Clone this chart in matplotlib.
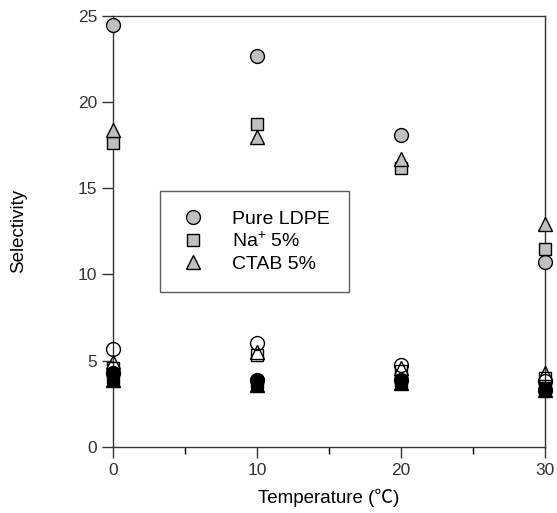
import matplotlib
matplotlib.use("Agg")
import matplotlib.pyplot as plt
import numpy as np

plt.rcParams['font.family'] = ['Liberation Sans', 'Noto Sans CJK SC', 'DejaVu Sans']
plt.rcParams['mathtext.fontset'] = 'custom'
plt.rcParams['mathtext.rm'] = 'Liberation Sans'
plt.rcParams['mathtext.it'] = 'Liberation Sans'

temps = [0, 10, 20, 30]

# selectivity (upper group, grey markers, in legend)
pure_ldpe = [24.5, 22.7, 18.1, 10.7]
na_5 = [17.6, 18.7, 16.2, 11.5]
ctab_5 = [18.4, 18.0, 16.7, 12.95]

# open markers
pure_ldpe_open = [5.7, 6.0, 4.75, 3.8]
na_5_open = [4.6, 5.3, 4.4, 4.0]
ctab_5_open = [4.9, 5.5, 4.6, 4.3]

# black markers
pure_ldpe_black = [4.3, 3.9, 3.9, 3.3]
na_5_black = [4.0, 3.7, 3.8, 3.4]
ctab_5_black = [3.9, 3.6, 3.7, 3.3]

fig = plt.figure(figsize=(5.57, 5.13), dpi=100)
ax = fig.add_axes([0.203, 0.129, 0.775, 0.84])

grey = '#c0c0c0'
kw = dict(linestyle='none', markeredgecolor='black', markeredgewidth=1.0, clip_on=False, zorder=3)

ax.plot(temps, pure_ldpe_black, marker='o', markersize=10, markerfacecolor='black', **kw)
ax.plot(temps, na_5_black, marker='s', markersize=9, markerfacecolor='black', **kw)
ax.plot(temps, ctab_5_black, marker='^', markersize=10, markerfacecolor='black', **kw)

ax.plot(temps, pure_ldpe_open, marker='o', markersize=10, markerfacecolor='none', **kw)
ax.plot(temps, na_5_open, marker='s', markersize=9, markerfacecolor='none', **kw)
ax.plot(temps, ctab_5_open, marker='^', markersize=10, markerfacecolor='none', **kw)

ax.plot(temps, pure_ldpe, marker='o', markersize=10, markerfacecolor=grey, label='Pure LDPE', **kw)
ax.plot(temps, na_5, marker='s', markersize=9, markerfacecolor=grey, label='Na$^{+}$ 5%', **kw)
ax.plot(temps, ctab_5, marker='^', markersize=10, markerfacecolor=grey, label='CTAB 5%', **kw)

ax.set_xlim(0, 30)
ax.set_ylim(0, 25)
ax.set_xticks([0, 10, 20, 30])
ax.set_xticks([5, 15, 25], minor=True)
ax.set_yticks([0, 5, 10, 15, 20, 25])
ax.tick_params(axis='both', which='major', direction='out', length=8, width=1, labelsize=12.5, colors='#333333')
ax.tick_params(axis='x', which='minor', direction='out', length=5, width=1)
for s in ax.spines.values():
    s.set_color('#333333')
    s.set_linewidth(1)

ax.set_xlabel('Temperature (\u2103)', fontsize=13.5, labelpad=8)
ax.set_ylabel('Selectivity', fontsize=13.5, labelpad=36)

leg = ax.legend(loc='upper left', bbox_to_anchor=(0.109, 0.594), fontsize=14,
                frameon=True, fancybox=False, edgecolor='#333333',
                handletextpad=1.3, borderpad=1.0, labelspacing=0.2, handlelength=1.4,
                borderaxespad=0)
leg.get_frame().set_linewidth(1)

fig.savefig('out.png', dpi=100)
